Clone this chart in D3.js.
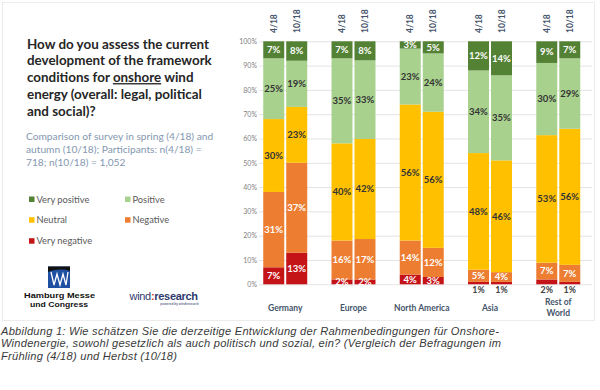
<!DOCTYPE html>
<html>
<head>
<meta charset="utf-8">
<script src="https://cdn.jsdelivr.net/npm/d3@7"></script>
<style>
  html, body { margin: 0; padding: 0; background: #fff; }
  svg { display: block; }
</style>
</head>
<body>
<svg id="chart" width="600" height="390"></svg>
<script>
// ---------------- DATA ----------------
const regions = ["Germany", "Europe", "North America", "Asia", "Rest of World"];
const periods = ["4/18", "10/18"];
const seriesNames = ["Very negative", "Negative", "Neutral", "Positive", "Very positive"];

// values (%) per region, spring survey (4/18)
const veryPositiveApr = [7, 7, 3, 12, 9];
const positiveApr     = [25, 35, 23, 34, 30];
const neutralApr      = [30, 40, 56, 48, 53];
const negativeApr     = [31, 16, 14, 5, 7];
const veryNegativeApr = [7, 2, 4, 1, 2];

// values (%) per region, autumn survey (10/18)
const veryPositiveOct = [8, 8, 5, 14, 7];
const positiveOct     = [19, 33, 24, 35, 29];
const neutralOct      = [23, 42, 56, 46, 56];
const negativeOct     = [37, 17, 12, 4, 7];
const veryNegativeOct = [13, 2, 3, 1, 1];

// regions whose "very negative" label sits under the bar
const labelBelowRegions = ["Asia", "Rest of World"];

const yTicks = [0, 0.1, 0.2, 0.3, 0.4, 0.5, 0.6, 0.7, 0.8, 0.9, 1.0];

const legendOrder = ["Very positive", "Positive", "Neutral", "Negative", "Very negative"];

// ---------------- STYLE ----------------
const colors = {
  "Very positive": "#548235",
  "Positive": "#a9d18e",
  "Neutral": "#ffc000",
  "Negative": "#ed7d31",
  "Very negative": "#c41418"
};
const labelColors = {
  "Very positive": "#ffffff",
  "Positive": "#333333",
  "Neutral": "#333333",
  "Negative": "#ffffff",
  "Very negative": "#ffffff"
};
const navy = "#44546a";

// ---------------- BUILD TABLE ----------------
const valueTable = {
  "4/18": {
    "Very positive": veryPositiveApr, "Positive": positiveApr, "Neutral": neutralApr,
    "Negative": negativeApr, "Very negative": veryNegativeApr
  },
  "10/18": {
    "Very positive": veryPositiveOct, "Positive": positiveOct, "Neutral": neutralOct,
    "Negative": negativeOct, "Very negative": veryNegativeOct
  }
};

const bars = [];
regions.forEach((r, i) => {
  periods.forEach(p => {
    const total = d3.sum(seriesNames, s => valueTable[p][s][i]);
    let acc = 0;
    const segs = seriesNames.map(s => {
      const v = valueTable[p][s][i];
      const seg = { region: r, period: p, series: s, value: v, y0: acc / total, y1: (acc + v) / total };
      acc += v;
      return seg;
    });
    bars.push({ region: r, period: p, segs });
  });
});

// ---------------- DRAW ----------------
const svg = d3.select("#chart");
svg.append("rect").attr("width", 600).attr("height", 390).attr("fill", "#fff");

// panel frame
svg.append("rect")
  .attr("x", 2.5).attr("y", 2.5).attr("width", 592).attr("height", 318)
  .attr("fill", "none").attr("stroke", "#ececec").attr("stroke-width", 1);

const y = d3.scaleLinear().domain([0, 1]).range([284.3, 41.3]);
const x0 = d3.scaleBand().domain(regions).range([251.1, 592.4]).padding(0);
const x1 = d3.scaleBand().domain(periods).range([0, x0.bandwidth()])
  .paddingInner(0.087).paddingOuter(0.528);

// gridlines
svg.append("g").selectAll("line").data(yTicks).join("line")
  .attr("x1", 259).attr("x2", 592)
  .attr("y1", d => y(d) + 0.5).attr("y2", d => y(d) + 0.5)
  .attr("stroke", "#e3e3e3").attr("stroke-width", 1);

// y axis labels
const yAxis = d3.axisLeft(y).tickValues(yTicks).tickFormat(d3.format(".0%")).tickSize(0).tickPadding(0);
const yg = svg.append("g").attr("transform", "translate(257,0)").call(yAxis);
yg.select(".domain").remove();
yg.selectAll("text")
  .attr("fill", "#7f7f7f").attr("font-family", "Lato, 'Open Sans', sans-serif")
  .attr("font-size", "7px");

// bars
const barG = svg.append("g").selectAll("g").data(bars).join("g")
  .attr("transform", d => `translate(${x0(d.region) + x1(d.period)},0)`);

barG.selectAll("rect").data(d => d.segs).join("rect")
  .attr("x", 0).attr("width", x1.bandwidth())
  .attr("y", d => y(d.y1)).attr("height", d => y(d.y0) - y(d.y1))
  .attr("fill", d => colors[d.series]);

// segment labels
barG.selectAll("text.seg").data(d => d.segs.filter(s =>
    !(s.series === "Very negative" && labelBelowRegions.includes(s.region))))
  .join("text")
  .attr("class", "seg")
  .attr("x", x1.bandwidth() / 2)
  .attr("y", d => (y(d.y0) + y(d.y1)) / 2 + 3.3)
  .attr("text-anchor", "middle")
  .attr("font-family", "Lato, 'Open Sans', sans-serif")
  .attr("font-weight", "bold")
  .attr("font-size", "9.5px")
  .attr("fill", d => labelColors[d.series])
  .text(d => d.value + "%");

// labels under bar
barG.selectAll("text.below").data(d => d.segs.filter(s =>
    s.series === "Very negative" && labelBelowRegions.includes(s.region)))
  .join("text")
  .attr("class", "below")
  .attr("x", x1.bandwidth() / 2)
  .attr("y", y(0) + 8.5)
  .attr("text-anchor", "middle")
  .attr("font-family", "Lato, 'Open Sans', sans-serif")
  .attr("font-weight", "bold")
  .attr("font-size", "8.8px")
  .attr("fill", "#404040")
  .text(d => d.value + "%");

// period headers (rotated)
barG.append("text")
  .attr("transform", `translate(${x1.bandwidth() / 2 + 3},33) rotate(-90)`)
  .attr("text-anchor", "start")
  .attr("font-family", "Lato, 'Open Sans', sans-serif")
  .attr("font-weight", "bold")
  .attr("font-size", "8.5px")
  .attr("fill", navy)
  .text(d => d.period);

// category labels
const catG = svg.append("g").selectAll("text").data(regions).join("text")
  .attr("x", d => x0(d) + x0.bandwidth() / 2)
  .attr("y", d => d === "Rest of World" ? 305 : 310.5)
  .attr("text-anchor", "middle")
  .attr("font-family", "Lato, 'Open Sans', sans-serif")
  .attr("font-weight", "bold")
  .attr("font-size", "8.5px")
  .attr("fill", navy);
catG.each(function (d) {
  const t = d3.select(this);
  if (d === "Rest of World") {
    t.append("tspan").attr("x", x0(d) + x0.bandwidth() / 2).text("Rest of");
    t.append("tspan").attr("x", x0(d) + x0.bandwidth() / 2).attr("dy", 11.3).text("World");
  } else {
    t.text(d);
  }
});

// ---------------- LEFT TEXT ----------------
const titleLines = [
  ["How do you assess the current"],
  ["development of the framework"],
  ["conditions for ", "onshore", " wind"],
  ["energy (overall: legal, political"],
  ["and social)?"]
];
const title = svg.append("text")
  .attr("font-family", "Lato, 'Open Sans', sans-serif")
  .attr("font-weight", "bold").attr("font-size", "13.4px").attr("fill", "#262626");
titleLines.forEach((parts, i) => {
  parts.forEach((p, j) => {
    const ts = title.append("tspan").text(p);
    if (j === 0) ts.attr("x", 27).attr("y", 48.5 + i * 16.8);
    if (p === "onshore") ts.attr("text-decoration", "underline");
  });
});

const subLines = [
  "Comparison of survey in spring (4/18) and",
  "autumn (10/18); Participants: n(4/18) =",
  "718; n(10/18) = 1,052"
];
svg.append("g").selectAll("text").data(subLines).join("text")
  .attr("x", 26).attr("y", (d, i) => 140.2 + i * 12.9)
  .attr("font-family", "Lato, 'Open Sans', sans-serif")
  .attr("font-size", "10.2px").attr("fill", "#8497b0")
  .text(d => d);

// legend
const legendPos = [
  { x: 29, y: 199.3 }, { x: 125, y: 199.3 },
  { x: 29, y: 220 }, { x: 125, y: 220 },
  { x: 29, y: 241 }
];
const lg = svg.append("g").selectAll("g").data(legendOrder).join("g")
  .attr("transform", (d, i) => `translate(${legendPos[i].x},${legendPos[i].y})`);
lg.append("rect").attr("x", 0).attr("y", -2.8).attr("width", 5.5).attr("height", 5.5)
  .attr("fill", d => colors[d]);
lg.append("text").attr("x", 7.5).attr("y", 3.3)
  .attr("font-family", "Lato, 'Open Sans', sans-serif")
  .attr("font-size", "9.3px").attr("fill", "#595959")
  .text(d => d);

// ---------------- LOGOS ----------------
const logo = svg.append("g");
logo.append("rect").attr("x", 48).attr("y", 266.5).attr("width", 22).attr("height", 21.5).attr("fill", "#1f4fa0");
logo.append("path")
  .attr("d", "M48,266.5 H70 V271 C64,269 56,269 48,272 Z")
  .attr("fill", "#111");
logo.append("path")
  .attr("d", "M51,272 L54,285 L57,274 L60,285 L63,274 L66,285 L68,272")
  .attr("fill", "none").attr("stroke", "#fff").attr("stroke-width", 1.3);
logo.append("text").attr("x", 24).attr("y", 298.3)
  .attr("font-family", "'Liberation Sans', Arial, sans-serif")
  .attr("font-weight", "bold").attr("font-size", "7.5px").attr("fill", "#111")
  .attr("textLength", 71).attr("lengthAdjust", "spacingAndGlyphs")
  .text("Hamburg Messe");
logo.append("text").attr("x", 30).attr("y", 307.2)
  .attr("font-family", "'Liberation Sans', Arial, sans-serif")
  .attr("font-weight", "bold").attr("font-size", "7.5px").attr("fill", "#111")
  .attr("textLength", 58).attr("lengthAdjust", "spacingAndGlyphs")
  .text("und Congress");

const wr = svg.append("text").attr("x", 129.5).attr("y", 300)
  .attr("font-family", "'Liberation Sans', Arial, sans-serif")
  .attr("font-size", "11px").attr("fill", "#2e3a6e").attr("letter-spacing", "-0.3");
wr.append("tspan").text("wind");
wr.append("tspan").attr("fill", "#d8452b").attr("font-weight", "bold").text(":");
wr.append("tspan").attr("font-weight", "bold").text("research");
svg.append("text").attr("x", 199).attr("y", 305).attr("text-anchor", "end")
  .attr("font-family", "'Liberation Sans', Arial, sans-serif")
  .attr("font-size", "3.4px").attr("fill", "#2e3a6e")
  .text("powered by windresearch");

// ---------------- CAPTION ----------------
const captionLines = [
  "Abbildung 1: Wie schätzen Sie die derzeitige Entwicklung der Rahmenbedingungen für Onshore-",
  "Windenergie, sowohl gesetzlich als auch politisch und sozial, ein? (Vergleich der Befragungen im",
  "Frühling (4/18) und Herbst (10/18)"
];
svg.append("g").selectAll("text").data(captionLines).join("text")
  .attr("x", 1).attr("y", (d, i) => 334.6 + i * 12.8)
  .attr("font-family", "'Liberation Sans', Arial, sans-serif")
  .attr("font-style", "italic").attr("font-size", "11.1px")
  .attr("letter-spacing", "0.25").attr("fill", "#3a3a3a")
  .text(d => d);
</script>
</body>
</html>
